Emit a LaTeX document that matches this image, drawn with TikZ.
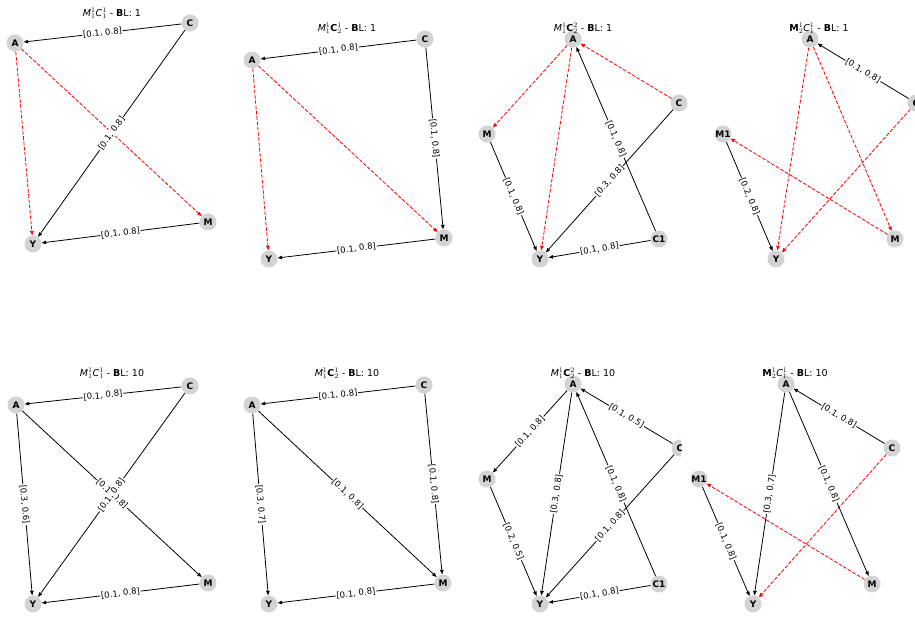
\documentclass[tikz,border=0pt]{standalone}
\usepackage{fontspec}
\setmainfont{DejaVu Sans}
\usetikzlibrary{arrows.meta}
\definecolor{nodegray}{HTML}{D3D3D3}
\tikzset{
  vert/.style={circle, fill=nodegray, minimum size=17pt, inner sep=0pt,
    font=\fontsize{9}{9}\selectfont\bfseries},
  blk/.style={draw=black, line width=0.8pt, -{Triangle[length=4.5pt,width=3.5pt]}},
  redd/.style={draw=red, line width=0.8pt, dash pattern=on 3.7pt off 1.6pt,
    -{Triangle[length=4.5pt,width=3.5pt]}},
  wlab/.style={sloped, midway, fill=white, inner sep=0.8pt,
    font=\fontsize{8.5}{8.5}\selectfont},
  ttl/.style={anchor=base, inner sep=0pt, font=\fontsize{9.5}{10}\selectfont}
}
\begin{document}
\begin{tikzpicture}[x=1pt,y=-1pt]
        \useasboundingbox (0,0) rectangle (915,616);

        % Panel a
        \node[vert] (Aa) at (15,43) {A};
        \node[vert] (Ca) at (190,23) {C};
        \node[vert] (Ma) at (208,222) {M};
        \node[vert] (Ya) at (33,244) {Y};
        \draw[redd] (Aa) -- (Ya);
        \draw[redd] (Aa) -- (Ma);
        \draw[blk] (Ca) -- node[wlab] {[0.1, 0.8]} (Aa);
        \draw[blk] (Ca) -- node[wlab] {[0.1, 0.8]} (Ya);
        \draw[blk] (Ma) -- node[wlab] {[0.1, 0.8]} (Ya);
        \node[ttl] (Ta) at (112,16) {$\mathit{M}^{1}_{1}\mathit{C}^{1}_{1}$ - \textbf{B}L: 1};

        % Panel b
        \node[vert] (Ab) at (252,60) {A};
        \node[vert] (Cb) at (425,39) {C};
        \node[vert] (Mb) at (444,238) {M};
        \node[vert] (Yb) at (269,259) {Y};
        \draw[redd] (Ab) -- (Yb);
        \draw[redd] (Ab) -- (Mb);
        \draw[blk] (Cb) -- node[wlab] {[0.1, 0.8]} (Ab);
        \draw[blk] (Cb) -- node[wlab] {[0.1, 0.8]} (Mb);
        \draw[blk] (Mb) -- node[wlab] {[0.1, 0.8]} (Yb);
        \node[ttl] (Tb) at (347,31) {$\mathit{M}^{1}_{1}\mathbf{C}^{1}_{2}$ - \textbf{B}L: 1};

        % Panel c
        \node[vert] (Ac) at (573,39) {A};
        \node[vert] (Cc) at (679,103) {C};
        \node[vert] (Mc) at (487,134) {M};
        \node[vert] (Yc) at (540,259) {Y};
        \node[vert] (C1c) at (659,239) {C1};
        \draw[redd] (Cc) -- (Ac);
        \draw[redd] (Ac) -- (Mc);
        \draw[redd] (Ac) -- (Yc);
        \draw[blk] (Mc) -- node[wlab] {[0.1, 0.8]} (Yc);
        \draw[blk] (C1c) -- node[wlab] {[0.1, 0.8]} (Ac);
        \draw[blk] (Cc) -- node[wlab] {[0.3, 0.8]} (Yc);
        \draw[blk] (C1c) -- node[wlab] {[0.1, 0.8]} (Yc);
        \node[ttl] (Tc) at (583,31) {$\mathit{M}^{1}_{1}\mathbf{C}^{2}_{2}$ - \textbf{B}L: 1};

        % Panel d
        \node[vert] (Ad) at (810,39) {A};
        \node[vert] (Cd) at (916,103) {C};
        \node[vert] (M1d) at (723,134) {M1};
        \node[vert] (Md) at (895,239) {M};
        \node[vert] (Yd) at (776,259) {Y};
        \draw[redd] (Ad) -- (Yd);
        \draw[redd] (Ad) -- (Md);
        \draw[redd] (Cd) -- (Yd);
        \draw[redd] (Md) -- (M1d);
        \draw[blk] (Cd) -- node[wlab] {[0.1, 0.8]} (Ad);
        \draw[blk] (M1d) -- node[wlab] {[0.2, 0.8]} (Yd);
        \node[ttl] (Td) at (819,31) {$\mathbf{M}^{1}_{2}\mathit{C}^{1}_{1}$ - \textbf{B}L: 1};

        % Panel e
        \node[vert] (Ae) at (16,405) {A};
        \node[vert] (Ce) at (190,386) {C};
        \node[vert] (Me) at (208,583) {M};
        \node[vert] (Ye) at (33,604) {Y};
        \draw[blk] (Ce) -- node[wlab] {[0.1, 0.8]} (Ae);
        \draw[blk] (Ae) -- node[wlab] {[0.3, 0.6]} (Ye);
        \draw[blk] (Ae) -- node[wlab] {[0.1, 0.8]} (Me);
        \draw[blk] (Ce) -- node[wlab] {[0.1, 0.8]} (Ye);
        \draw[blk] (Me) -- node[wlab] {[0.1, 0.8]} (Ye);
        \node[ttl] (Te) at (112,376) {$\mathit{M}^{1}_{1}\mathit{C}^{1}_{1}$ - \textbf{B}L: 10};

        % Panel f
        \node[vert] (Af) at (252,405) {A};
        \node[vert] (Cf) at (424,385) {C};
        \node[vert] (Mf) at (443,583) {M};
        \node[vert] (Yf) at (269,604) {Y};
        \draw[blk] (Cf) -- node[wlab] {[0.1, 0.8]} (Af);
        \draw[blk] (Af) -- node[wlab] {[0.3, 0.7]} (Yf);
        \draw[blk] (Af) -- node[wlab] {[0.1, 0.8]} (Mf);
        \draw[blk] (Cf) -- node[wlab] {[0.1, 0.8]} (Mf);
        \draw[blk] (Mf) -- node[wlab] {[0.1, 0.8]} (Yf);
        \node[ttl] (Tf) at (347,376) {$\mathit{M}^{1}_{1}\mathbf{C}^{1}_{2}$ - \textbf{B}L: 10};

        % Panel g (C is cut by the next panel)
        \begin{scope}
        \clip (455,340) rectangle (681,616);
        \node[vert] (Ag) at (573,384) {A};
        \node[vert] (Cg) at (680,448) {C};
        \node[vert] (Mg) at (487,479) {M};
        \node[vert] (Yg) at (540,604) {Y};
        \node[vert] (C1g) at (659,584) {C1};
        \draw[blk] (Cg) -- node[wlab] {[0.1, 0.5]} (Ag);
        \draw[blk] (Ag) -- node[wlab] {[0.1, 0.8]} (Mg);
        \draw[blk] (Ag) -- node[wlab] {[0.3, 0.8]} (Yg);
        \draw[blk] (Mg) -- node[wlab] {[0.2, 0.5]} (Yg);
        \draw[blk] (C1g) -- node[wlab] {[0.1, 0.8]} (Ag);
        \draw[blk] (Cg) -- node[wlab] {[0.1, 0.8]} (Yg);
        \draw[blk] (C1g) -- node[wlab] {[0.1, 0.8]} (Yg);
        \end{scope}
        \node[ttl] (Tg) at (583,376) {$\mathit{M}^{1}_{1}\mathbf{C}^{2}_{2}$ - \textbf{B}L: 10};

        % Panel h
        \node[vert] (Ah) at (786,384) {A};
        \node[vert] (Ch) at (892,448) {C};
        \node[vert] (M1h) at (699,479) {M1};
        \node[vert] (Mh) at (872,584) {M};
        \node[vert] (Yh) at (753,604) {Y};
        \draw[redd] (Ch) -- (Yh);
        \draw[redd] (Mh) -- (M1h);
        \draw[blk] (Ch) -- node[wlab] {[0.1, 0.8]} (Ah);
        \draw[blk] (Ah) -- node[wlab] {[0.3, 0.7]} (Yh);
        \draw[blk] (Ah) -- node[wlab] {[0.1, 0.8]} (Mh);
        \draw[blk] (M1h) -- node[wlab] {[0.1, 0.8]} (Yh);
        \node[ttl] (Th) at (795,376) {$\mathbf{M}^{1}_{2}\mathit{C}^{1}_{1}$ - \textbf{B}L: 10};
    \end{tikzpicture}
\end{document}
